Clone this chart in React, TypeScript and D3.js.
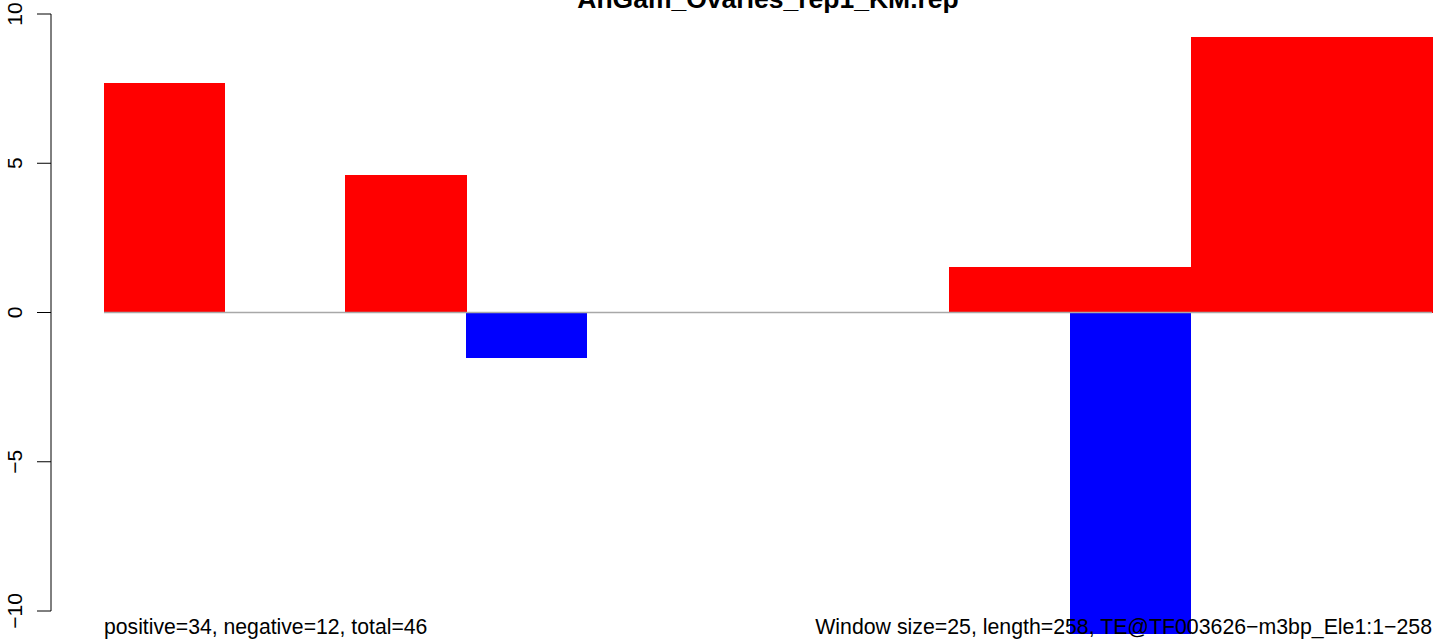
import React from "react";
import { scaleBand, scaleLinear } from "d3";

// windows along the element, with positive / negative strand scores
const windows = ["1", "2", "3", "4", "5", "6", "7", "8", "9", "10", "11"];
const positive = [7.69, 0, 4.62, 0, 0, 0, 0, 1.54, 1.54, 9.23, 9.23];
const negative = [0, 0, 0, -1.54, 0, 0, 0, 0, -10.77, 0, 0];
const yTicks = [-10, -5, 0, 5, 10];

const title = "AnGam_Ovaries_rep1_KM.rep";
const leftNote = "positive=34, negative=12, total=46";
const rightNote = "Window size=25, length=258, TE@TF003626\u2212m3bp_Ele1:1\u2212258";

const W = 1444;
const H = 641;
const font = "'Liberation Sans', Arial, Helvetica, sans-serif";

const fmt = (v: number) => (v < 0 ? "\u2212" + Math.abs(v) : String(v));

export default function App() {
  const x = scaleBand().domain(windows).range([104, 1432]).padding(0);
  const y = scaleLinear().domain([-10, 10]).range([611, 14]);
  const axisX = 51;

  return (
    <div style={{ position: "absolute", left: 0, top: 0 }}>
      <svg width={W} height={H} style={{ display: "block", background: "#fff" }}>
        {/* Bars: positive then negative */}
        {windows.map((w, i) =>
          positive[i] > 0 ? (
            <rect
              key={"p" + w}
              x={x(w)!}
              width={x.bandwidth() + 0.5}
              y={y(positive[i])}
              height={y(0) - y(positive[i])}
              fill="#ff0000"
              shapeRendering="crispEdges"
            />
          ) : null
        )}
        {windows.map((w, i) =>
          negative[i] < 0 ? (
            <rect
              key={"n" + w}
              x={x(w)!}
              width={x.bandwidth()}
              y={y(0)}
              height={y(negative[i]) - y(0)}
              fill="#0000ff"
              shapeRendering="crispEdges"
            />
          ) : null
        )}

        {/* zero line */}
        <line
          x1={x.range()[0]}
          x2={x.range()[1]}
          y1={y(0)}
          y2={y(0)}
          stroke="#a8a8a8"
          strokeWidth={1.3}
        />

        {/* Y axis */}
        <line x1={axisX} x2={axisX} y1={y(-10)} y2={y(10)} stroke="#000" strokeWidth={1} />
        {yTicks.map((t) => (
          <g key={t}>
            <line x1={axisX - 14} x2={axisX} y1={y(t)} y2={y(t)} stroke="#000" strokeWidth={1} />
            <text
              transform={`translate(22,${y(t)}) rotate(-90)`}
              textAnchor="middle"
              fontFamily={font}
              fontSize={21}
              fill="#000"
            >
              {fmt(t)}
            </text>
          </g>
        ))}

        {/* Title (cut at the top edge, as in the original) */}
        <text
          x={(x.range()[0] + x.range()[1]) / 2}
          y={8}
          textAnchor="middle"
          fontFamily={font}
          fontSize={26.5}
          fontWeight="bold"
          fill="#000"
        >
          {title}
        </text>

        {/* Bottom notes */}
        <text x={104} y={634} fontFamily={font} fontSize={21.2} fill="#000">
          {leftNote}
        </text>
        <text x={1432} y={634} textAnchor="end" fontFamily={font} fontSize={21.3} fill="#000">
          {rightNote}
        </text>
      </svg>
    </div>
  );
}
